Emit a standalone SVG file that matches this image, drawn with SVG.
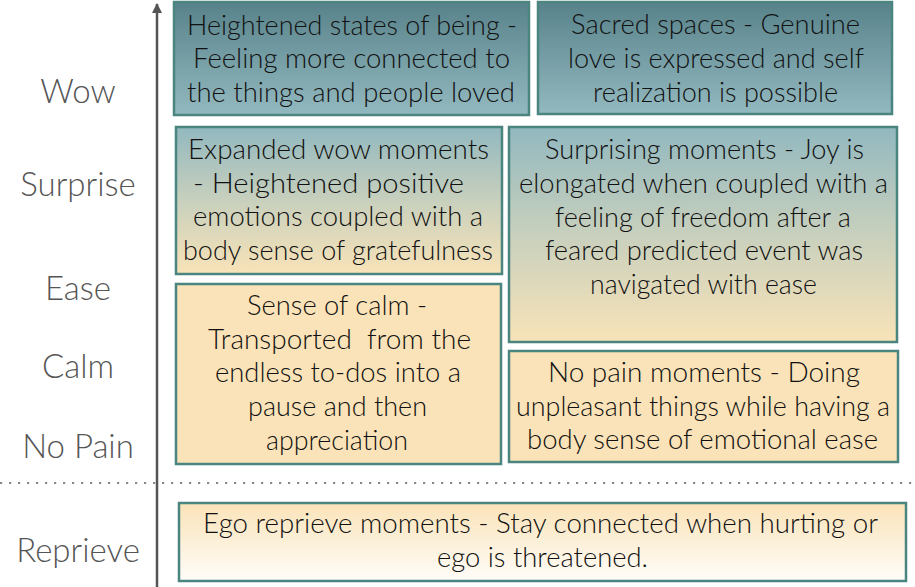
<svg xmlns="http://www.w3.org/2000/svg" width="915" height="587" viewBox="0 0 915 587">
  <defs>
    <linearGradient id="gTeal" x1="0" y1="0" x2="0" y2="1">
      <stop offset="0" stop-color="#58828a"/>
      <stop offset="1" stop-color="#93b9c0"/>
    </linearGradient>
    <linearGradient id="gMix" x1="0" y1="0" x2="0" y2="1">
      <stop offset="0" stop-color="#92b8bf"/>
      <stop offset="0.5" stop-color="#c8d0bd"/>
      <stop offset="1" stop-color="#f8e3b8"/>
    </linearGradient>
    <linearGradient id="gEgo" x1="0" y1="0" x2="0" y2="1">
      <stop offset="0" stop-color="#fae3b8"/>
      <stop offset="1" stop-color="#fffdf9"/>
    </linearGradient>
    <style>
      .box { stroke: #4a8580; stroke-width: 2.5; }
      .bt { font-family: Lato, "Open Sans", sans-serif; font-weight: 300; font-size: 28px; fill: #111; text-anchor: middle; white-space: pre; }
      .lab { font-family: Lato, "Open Sans", sans-serif; font-weight: 300; font-size: 33px; fill: #555; text-anchor: middle; }
    </style>
  </defs>

  <g id="axis">
    <line x1="157" y1="587" x2="157" y2="4" stroke="#555" stroke-width="2.5"/>
    <path d="M152,13 L157,3 L162,13 Z" fill="#555"/>
    <line x1="0" y1="483" x2="915" y2="483" stroke="#888" stroke-width="2.2" stroke-dasharray="2.2 6.8"/>
  </g>

  <g id="labels">
    <text class="lab" x="78" y="103">Wow</text>
    <text class="lab" x="78" y="196">Surprise</text>
    <text class="lab" x="78" y="300">Ease</text>
    <text class="lab" x="78" y="378">Calm</text>
    <text class="lab" x="78" y="458">No Pain</text>
    <text class="lab" x="78" y="562">Reprieve</text>
  </g>

  <g id="heightened">
    <rect class="box" x="174" y="2" width="355" height="113" fill="url(#gTeal)"/>
    <text class="bt" x="352" y="35" textLength="330" lengthAdjust="spacingAndGlyphs">Heightened states of being -</text>
    <text class="bt" x="351.5" y="68" textLength="317" lengthAdjust="spacingAndGlyphs">Feeling more connected to</text>
    <text class="bt" x="351" y="102" textLength="328" lengthAdjust="spacingAndGlyphs">the things and people loved</text>
  </g>

  <g id="sacred">
    <rect class="box" x="538" y="2" width="354" height="112" fill="url(#gTeal)"/>
    <text class="bt" x="715.5" y="34" textLength="289" lengthAdjust="spacingAndGlyphs">Sacred spaces - Genuine</text>
    <text class="bt" x="716" y="68" textLength="296" lengthAdjust="spacingAndGlyphs">love is expressed and self</text>
    <text class="bt" x="715.5" y="102" textLength="245" lengthAdjust="spacingAndGlyphs">realization is possible</text>
  </g>

  <g id="expanded">
    <rect class="box" x="176" y="127" width="326" height="147" fill="url(#gMix)"/>
    <text class="bt" x="338.5" y="159" textLength="301" lengthAdjust="spacingAndGlyphs">Expanded wow moments</text>
    <text class="bt" x="328.5" y="193" textLength="271" lengthAdjust="spacingAndGlyphs">- Heightened positive</text>
    <text class="bt" x="338" y="226" textLength="290" lengthAdjust="spacingAndGlyphs">emotions coupled with a</text>
    <text class="bt" x="338" y="260" textLength="310" lengthAdjust="spacingAndGlyphs">body sense of gratefulness</text>
  </g>

  <g id="surprising">
    <rect class="box" x="509" y="127" width="388" height="215" fill="url(#gMix)"/>
    <text class="bt" x="704.5" y="159" textLength="319" lengthAdjust="spacingAndGlyphs">Surprising moments - Joy is</text>
    <text class="bt" x="703.5" y="193" textLength="369" lengthAdjust="spacingAndGlyphs">elongated when coupled with a</text>
    <text class="bt" x="703" y="227" textLength="296" lengthAdjust="spacingAndGlyphs">feeling of freedom after a</text>
    <text class="bt" x="704" y="260" textLength="318" lengthAdjust="spacingAndGlyphs">feared predicted event was</text>
    <text class="bt" x="703.5" y="294" textLength="227" lengthAdjust="spacingAndGlyphs">navigated with ease</text>
  </g>

  <g id="calm">
    <rect class="box" x="176" y="284" width="325" height="180" fill="#fae3b8"/>
    <text class="bt" x="337" y="315" textLength="180" lengthAdjust="spacingAndGlyphs">Sense of calm -</text>
    <text class="bt" x="339.5" y="349" textLength="263" lengthAdjust="spacingAndGlyphs">Transported  from the</text>
    <text class="bt" x="338" y="382" textLength="246" lengthAdjust="spacingAndGlyphs">endless to-dos into a</text>
    <text class="bt" x="337.5" y="416" textLength="179" lengthAdjust="spacingAndGlyphs">pause and then</text>
    <text class="bt" x="337" y="450" textLength="142" lengthAdjust="spacingAndGlyphs">appreciation</text>
  </g>

  <g id="nopain">
    <rect class="box" x="509" y="351" width="389" height="111" fill="#fae3b8"/>
    <text class="bt" x="704" y="382" textLength="312" lengthAdjust="spacingAndGlyphs">No pain moments - Doing</text>
    <text class="bt" x="703" y="416" textLength="374" lengthAdjust="spacingAndGlyphs">unpleasant things while having a</text>
    <text class="bt" x="702.5" y="449" textLength="351" lengthAdjust="spacingAndGlyphs">body sense of emotional ease</text>
  </g>

  <g id="ego">
    <rect class="box" x="179" y="503" width="727" height="78" fill="url(#gEgo)"/>
    <text class="bt" x="540.5" y="533" textLength="675" lengthAdjust="spacingAndGlyphs">Ego reprieve moments - Stay connected when hurting or</text>
    <text class="bt" x="542.5" y="567" textLength="211" lengthAdjust="spacingAndGlyphs">ego is threatened.</text>
  </g>
</svg>
